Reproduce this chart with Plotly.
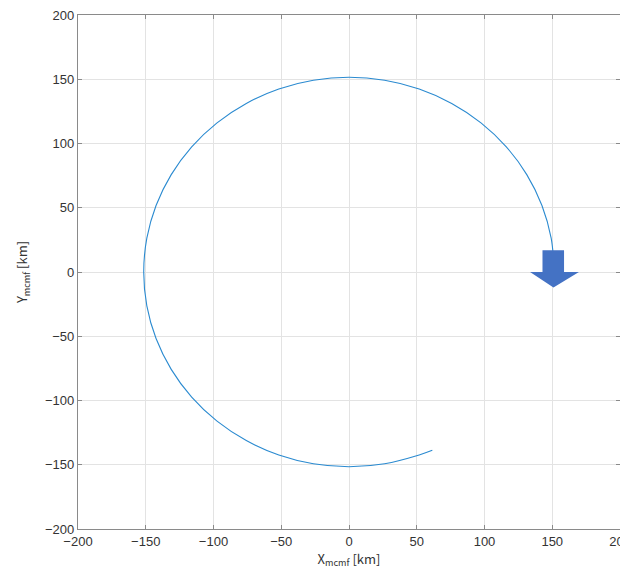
import plotly.graph_objects as go

# Trajectory points (km)
X_MCMF = [151.5, 149.2, 142.4, 131.2, 116.1, 97.4, 75.8, 51.8, 26.3, 0.0,
          -26.3, -51.8, -75.8, -97.4, -116.1, -131.2, -142.4, -149.2, -151.5,
          -149.2, -142.4, -131.2, -116.1, -97.4, -75.8, -51.8, -26.3, 0.0,
          26.3, 51.8, 61.5]
Y_MCMF = [0.0, 26.3, 51.8, 75.8, 97.4, 116.1, 131.2, 142.4, 149.2, 151.5,
          149.2, 142.4, 131.2, 116.1, 97.4, 75.8, 51.8, 26.3, 0.0,
          -26.3, -51.8, -75.8, -97.4, -116.1, -131.2, -142.4, -149.2, -151.5,
          -149.2, -142.4, -138.8]

TICKS = [-200, -150, -100, -50, 0, 50, 100, 150, 200]

# Block arrow overlay outline (data coords)
ARROW_X = [142.8, 158.7, 158.7, 169.7, 150.9, 133.6, 142.8]
ARROW_Y = [17.0, 17.0, 0.0, 0.0, -12.0, 0.0, 0.0]

fig = go.Figure()
fig.add_trace(go.Scatter(x=X_MCMF, y=Y_MCMF, mode="lines",
                         line=dict(color="#2a8ad0", width=1.1, shape="spline"),
                         hoverinfo="skip", showlegend=False))

path = "M " + " L ".join(f"{x},{y}" for x, y in zip(ARROW_X, ARROW_Y)) + " Z"
fig.add_shape(type="path", path=path, xref="x", yref="y",
              fillcolor="#4472C4", line=dict(width=0), layer="above")

axis_common = dict(
    range=[-200, 200], tickvals=TICKS, ticktext=[str(t).replace("-", "−") for t in TICKS],
    showgrid=True, gridcolor="#e3e3e3", gridwidth=1,
    zeroline=False, showline=True, linecolor="#8a8a8a", linewidth=1.3,
    mirror="allticks", ticks="inside", ticklen=4, tickcolor="#8a8a8a",
    tickfont=dict(family="Liberation Sans, Arial", size=13, color="#333333"),
    automargin=False, ticklabeloverflow="allow",
)

# the page body adds an 8px offset; size the figure so the frame lands where the reference's does
fig.update_layout(
    width=620, height=567,
    margin=dict(l=70, r=8, t=7, b=46),
    paper_bgcolor="white", plot_bgcolor="white",
    xaxis=dict(**axis_common,
               title=dict(text="X<sub>mcmf</sub> [km]", standoff=4,
                          font=dict(family="Noto Sans CJK JP", size=13, color="#333333"))),
    yaxis=dict(**axis_common,
               title=dict(text="Y<sub>mcmf</sub> [km]", standoff=14,
                          font=dict(family="Noto Sans CJK JP", size=13, color="#333333"))),
)

fig.write_html("out.html")
